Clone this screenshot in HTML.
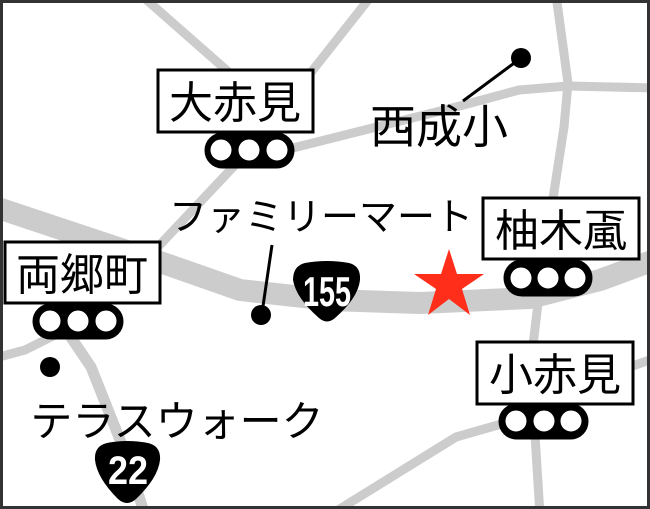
<!DOCTYPE html>
<html><head><meta charset="utf-8"><style>
html,body{margin:0;padding:0;background:#fff}
svg{display:block}
text{font-family:"Liberation Sans","Noto Sans CJK JP",sans-serif}
</style></head><body>
<svg width="650" height="509" viewBox="0 0 650 509" xmlns="http://www.w3.org/2000/svg">
<rect x="0" y="0" width="650" height="509" fill="#fff"/>
<g fill="none" stroke="#cccccc" stroke-linecap="round" stroke-linejoin="round">
  <path d="M141,-5 L232,75" stroke-width="9"/>
  <path d="M372,-5 L305,80" stroke-width="9"/>
  <path d="M285,150 L456,107 L519,90 L568,86 L655,88" stroke-width="9"/>
  <path d="M556,-5 L568,83 L564,127 L552,205" stroke-width="9"/>
  <path d="M235,165 L155,250" stroke-width="9"/>
  <path d="M-5,207 L160,262 L240,290 L330,300 L420,303 L530,298 L600,280 L660,258" stroke-width="22"/>
  <path d="M539,295 L533,345" stroke-width="9"/>
  <path d="M535,435 L540,515" stroke-width="9"/>
  <path d="M505,423 L456,437 L330,515" stroke-width="9"/>
  <path d="M630,367 L655,358" stroke-width="9"/>
  <path d="M66,330 L91,367 L124,450 L145,515" stroke-width="11"/>
  <path d="M-5,358 L25,350 L55,335" stroke-width="9"/>
</g>
<line x1="521" y1="58" x2="463" y2="101" stroke="#000" stroke-width="3"/>
<circle cx="521" cy="58" r="10" fill="#000"/>
<line x1="272" y1="245" x2="262" y2="313" stroke="#000" stroke-width="3"/>
<circle cx="261" cy="315" r="10" fill="#000"/>
<circle cx="50" cy="367" r="10" fill="#000"/>
<g fill="#fff" stroke="#000" stroke-width="3">
  <rect x="158" y="70" width="155" height="62"/>
  <rect x="483" y="198" width="156" height="61"/>
  <rect x="5" y="242" width="155" height="61"/>
  <rect x="477" y="342" width="156" height="62"/>
</g>
<g font-size="44" fill="#000" text-anchor="middle">
  <text x="235" y="118">大赤見</text>
  <text x="561" y="246">柚木颪</text>
  <text x="82" y="290">両郷町</text>
  <text x="555" y="390">小赤見</text>
</g>
<text x="439" y="143" font-size="46" text-anchor="middle">西成小</text>
<text x="321" y="230" font-size="38" text-anchor="middle">ファミリーマート</text>
<text x="177" y="436" font-size="42" text-anchor="middle">テラスウォーク</text>
<g stroke="#000" stroke-width="3">
  <rect x="206" y="134" width="87" height="33" rx="16.5" fill="#000"/>
  <circle cx="221" cy="150" r="12" fill="#fff"/><circle cx="249" cy="150" r="12" fill="#fff"/><circle cx="277" cy="150" r="12" fill="#fff"/>
  <rect x="505" y="261" width="86" height="34" rx="17" fill="#000"/>
  <circle cx="521" cy="278" r="12" fill="#fff"/><circle cx="548" cy="278" r="12" fill="#fff"/><circle cx="575" cy="278" r="12" fill="#fff"/>
  <rect x="34" y="305" width="88" height="33" rx="16.5" fill="#000"/>
  <circle cx="50" cy="321" r="12" fill="#fff"/><circle cx="78" cy="321" r="12" fill="#fff"/><circle cx="106" cy="321" r="12" fill="#fff"/>
  <rect x="500" y="405" width="87" height="33" rx="16.5" fill="#000"/>
  <circle cx="516" cy="421" r="12" fill="#fff"/><circle cx="544" cy="421" r="12" fill="#fff"/><circle cx="571" cy="421" r="12" fill="#fff"/>
</g>
<path d="M305,263 Q327,259 349,263 Q361,266 360,280 Q358,298 335,318 Q327,325 319,318 Q296,298 293,280 Q293,266 305,263 Z" fill="#000"/>
<text x="327" y="306" font-size="42" font-weight="bold" fill="#fff" text-anchor="middle" style="font-family:'Liberation Sans Narrow','Liberation Sans',sans-serif" textLength="48" lengthAdjust="spacingAndGlyphs">155</text>
<path d="M107,443 Q127,439 148,443 Q161,446 160,460 Q158,478 136,499 Q127,507 118,499 Q97,478 95,460 Q94,446 107,443 Z" fill="#000"/>
<text x="128" y="484" font-size="40" font-weight="bold" fill="#fff" text-anchor="middle" textLength="40" lengthAdjust="spacingAndGlyphs">22</text>
<polygon points="449,249 457,274 484,274 462,289 470,315 449,299 428,315 436,289 414,274 441,274" fill="#ff2e1a"/>
<rect x="1.5" y="1.5" width="647" height="506" fill="none" stroke="#333" stroke-width="3"/>
</svg>
</body></html>
